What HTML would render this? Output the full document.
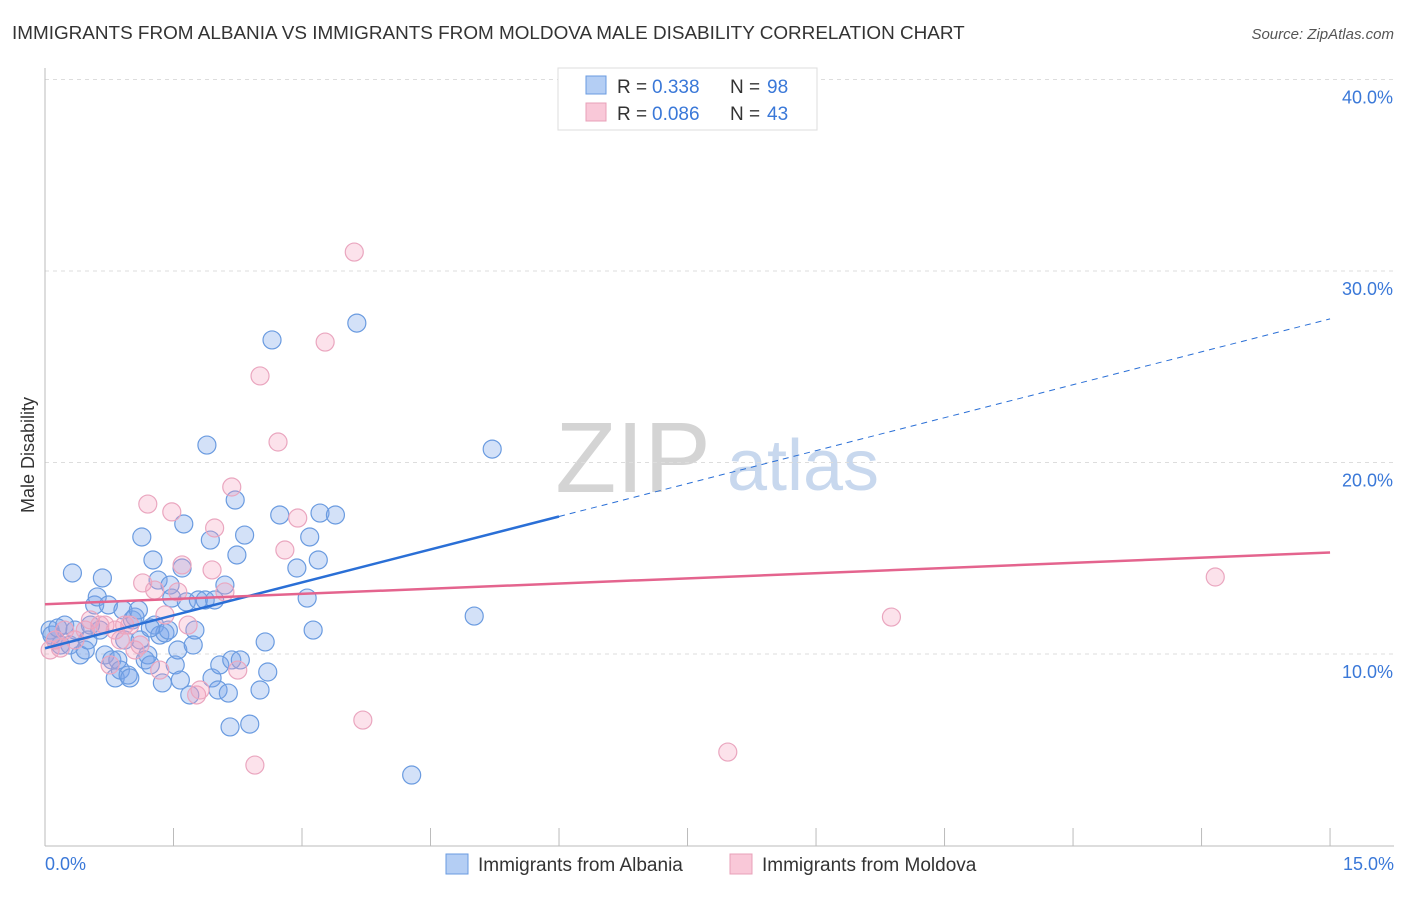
<!DOCTYPE html>
<html><head><meta charset="utf-8"><style>
body{margin:0;background:#fff;font-family:"Liberation Sans",sans-serif}
svg text{font-family:"Liberation Sans",sans-serif}
</style></head><body>
<svg id="chart" width="1406" height="892">
<text x="12" y="39" font-size="18.9" fill="#333">IMMIGRANTS FROM ALBANIA VS IMMIGRANTS FROM MOLDOVA MALE DISABILITY CORRELATION CHART</text>
<text x="1394" y="39" font-size="15" fill="#555" font-style="italic" text-anchor="end">Source: ZipAtlas.com</text>
<text x="633" y="492" font-size="100" fill="#d4d4d4" text-anchor="middle" font-family="Liberation Serif">ZIP</text>
<text x="803" y="490" font-size="72" fill="#c8d8ee" text-anchor="middle">atlas</text>
<g id="grid"></g>
<g id="axes"></g>
<g id="pts"></g>
<g id="lines"></g>
<text x="34" y="455" font-size="18" fill="#333" text-anchor="middle" transform="rotate(-90 34 455)">Male Disability</text>
<text x="45" y="870" font-size="18" fill="#3a78d8">0.0%</text>
<text x="1394" y="870" font-size="18" fill="#3a78d8" text-anchor="end">15.0%</text>
<g>
<rect x="558" y="68" width="259" height="62" fill="#fff" stroke="#ddd"/>
<rect x="586" y="76" width="20" height="18" fill="#b4cef4" stroke="#6a9be0"/>
<rect x="586" y="103" width="20" height="18" fill="#f9c8d8" stroke="#e8a0b8"/>
<text x="617" y="93" font-size="19" fill="#333">R =</text>
<text x="652" y="93" font-size="19" fill="#3a78d8">0.338</text>
<text x="730" y="93" font-size="19" fill="#333">N =</text>
<text x="767" y="93" font-size="19" fill="#3a78d8">98</text>
<text x="617" y="120" font-size="19" fill="#333">R =</text>
<text x="652" y="120" font-size="19" fill="#3a78d8">0.086</text>
<text x="730" y="120" font-size="19" fill="#333">N =</text>
<text x="767" y="120" font-size="19" fill="#3a78d8">43</text>
</g>
<g>
<rect x="446" y="854" width="22" height="20" fill="#b4cef4" stroke="#6a9be0"/>
<text x="478" y="871" font-size="19" fill="#333">Immigrants from Albania</text>
<rect x="730" y="854" width="22" height="20" fill="#f9c8d8" stroke="#e8a0b8"/>
<text x="762" y="871" font-size="19" fill="#333">Immigrants from Moldova</text>
</g>
</svg>
<script>
const yTicks=[10,20,30,40];
const xTicks=[0,1.5,3,4.5,6,7.5,9,10.5,12,13.5,15];
const albaniaPx=[[50,630],[55,640],[60,645],[52,635],[65,625],[70,645],[72,573],[75,630],[80,655],[85,650],[88,640],[95,605],[97,597],[100,630],[102,578],[105,655],[108,605],[112,660],[115,678],[118,660],[120,670],[123,610],[125,640],[128,675],[130,678],[132,620],[135,617],[138,610],[142,537],[145,660],[148,655],[150,665],[153,560],[155,625],[158,580],[160,635],[162,683],[165,633],[168,630],[170,585],[172,598],[175,665],[178,650],[180,680],[182,568],[184,524],[186,602],[190,695],[193,645],[195,630],[198,600],[205,600],[207,445],[210,540],[212,678],[215,600],[218,690],[220,665],[225,585],[228,693],[230,727],[232,660],[235,500],[237,555],[240,660],[245,535],[250,724],[260,690],[265,642],[268,672],[272,340],[280,515],[297,568],[307,598],[310,537],[313,630],[318,560],[320,513],[335,515],[357,323],[412,775],[474,616],[492,449],[58,628],[90,625],[140,640],[150,628]];
const moldovaPx=[[50,650],[55,640],[60,648],[65,630],[75,640],[85,630],[90,620],[100,625],[105,625],[110,665],[115,630],[120,640],[125,625],[130,625],[135,650],[140,645],[143,583],[148,504],[155,590],[160,670],[165,615],[172,512],[178,592],[182,565],[188,625],[197,695],[200,690],[212,570],[215,528],[225,592],[232,487],[238,670],[255,765],[260,376],[278,442],[285,550],[298,518],[325,342],[354,252],[363,720],[728,752],[891,617],[1215,577]];
const albaniaX=albaniaPx.map(p=>+((p[0]-45)/85.67).toFixed(2));
const albaniaY=albaniaPx.map(p=>+((845.5-p[1])/19.15).toFixed(2));
const moldovaX=moldovaPx.map(p=>+((p[0]-45)/85.67).toFixed(2));
const moldovaY=moldovaPx.map(p=>+((845.5-p[1])/19.15).toFixed(2));
const albaniaTrend=[10.3,27.5];
const moldovaTrend=[12.6,15.3];
const X=v=>45+v*85.67, Y=v=>845.5-v*19.15;
const NS="http://www.w3.org/2000/svg";
function mk(tag,attrs,parent){const e=document.createElementNS(NS,tag);for(const k in attrs)e.setAttribute(k,attrs[k]);document.getElementById(parent).appendChild(e);return e;}
yTicks.forEach(t=>{
 const l=mk('line',{x1:45,x2:1394,y1:Y(t),y2:Y(t),stroke:'#ddd','stroke-dasharray':'4 4'},'grid');
 
 
 const tx=mk('text',{x:1393,y:Y(t)+24,'font-size':18,fill:'#3a78d8','text-anchor':'end'},'grid');
 tx.textContent=t.toFixed(1)+'%';
 
 
});
const ya=mk('line',{x1:45,x2:45,y1:68,y2:846,stroke:'#bbb'},'axes');


const xa=mk('line',{x1:45,x2:1394,y1:846,y2:846,stroke:'#bbb'},'axes');


xTicks.forEach(t=>{
 const l=mk('line',{x1:X(t),x2:X(t),y1:828,y2:846,stroke:'#bbb'},'axes');
 
 
});
albaniaX.forEach((v,i)=>{
 const c=mk('circle',{cx:X(v),cy:Y(albaniaY[i]),r:9,fill:'rgba(120,165,235,0.33)',stroke:'#6a9be0','stroke-width':1.2},'pts');
 
 
});
moldovaX.forEach((v,i)=>{
 const c=mk('circle',{cx:X(v),cy:Y(moldovaY[i]),r:9,fill:'rgba(245,160,190,0.3)',stroke:'#eaa6bf','stroke-width':1.2},'pts');
 
 
});
const bx=6, by=albaniaTrend[0]+(albaniaTrend[1]-albaniaTrend[0])*bx/15;
const b1=mk('line',{x1:X(0),y1:Y(albaniaTrend[0]),x2:X(bx),y2:Y(by),stroke:'#2a6fd6','stroke-width':2.5},'lines');


const b2=mk('line',{x1:X(bx),y1:Y(by),x2:X(15),y2:Y(albaniaTrend[1]),stroke:'#2a6fd6','stroke-width':1,'stroke-dasharray':'6 5'},'lines');


const p1=mk('line',{x1:X(0),y1:Y(moldovaTrend[0]),x2:X(15),y2:Y(moldovaTrend[1]),stroke:'#e4648e','stroke-width':2.5},'lines');


</script>
</body></html>
